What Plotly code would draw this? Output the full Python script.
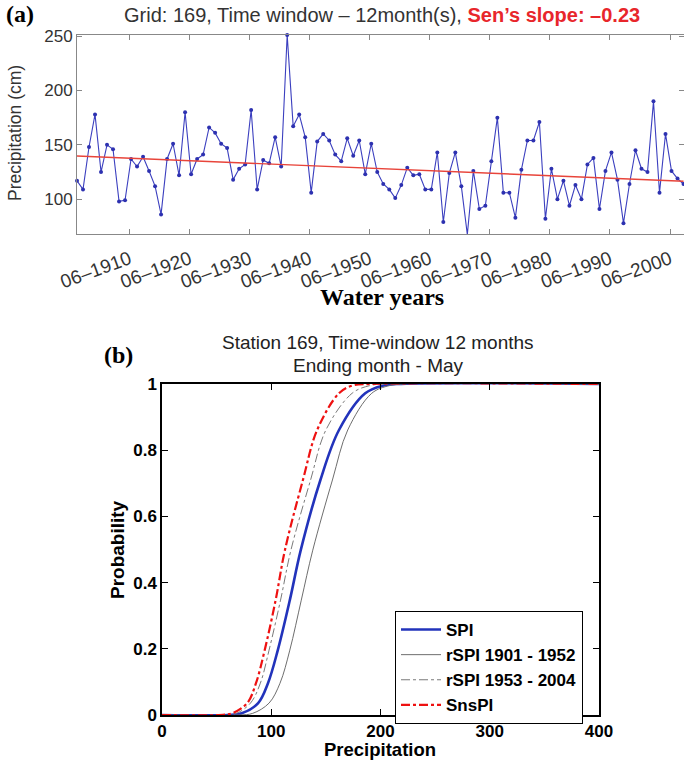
import plotly.graph_objects as go

# ---------------- Panel (a) data ----------------
water_years = list(range(1902, 2004))
precip_cm = [117, 109, 148, 178, 125, 150, 146, 98, 99, 137,
             130, 139, 126, 112, 86, 137, 151, 122, 180, 123,
             137, 141, 166, 161, 151, 147, 118, 128, 132, 182,
             109, 136, 133, 157, 130, 251, 167, 178, 157, 106,
             153, 160, 154, 141, 135, 156, 140, 154, 123, 151,
             125, 114, 109, 101, 113, 129, 122, 123, 109, 109,
             143, 79, 124, 143, 112, 67.5, 126, 91, 94, 135,
             175, 106, 106, 83, 127, 154, 154, 171, 82, 128,
             100, 117, 94, 113, 100, 132, 138, 91, 126, 143,
             118, 78, 114, 145, 128, 125, 190, 106, 160, 126,
             119, 114]
sens_slope = -0.23
trend_start = 139.7
tick_years = [1910, 1920, 1930, 1940, 1950, 1960, 1970, 1980, 1990, 2000]
tick_labels_a = ["06\u2013%d" % y for y in tick_years]

# ---------------- Panel (b) data ----------------
prob_levels = [0, 0, 0.005, 0.036, 0.096, 0.196, 0.347, 0.498, 0.71, 0.861, 0.972, 0.995, 1, 1]
spi_x = [0, 60, 73, 88, 97, 106, 117, 127, 145, 162, 186, 202, 215, 400]
rspi_early_x = [0, 70, 83, 98, 108, 117, 127.5, 138, 156, 170, 192, 208, 222, 400]
rspi_late_x = [0, 55, 68, 81, 90, 98, 108.5, 118, 136, 150, 174, 190, 205, 400]
snspi_x = [0, 52, 64, 78, 86, 94, 104, 112.5, 129, 142, 162, 174, 190, 400]

W, H = 684, 768
def px(x):
    return x / W
def py(y):
    return 1 - y / H

SANS = "Arial, Liberation Sans, sans-serif"
SERIF = "Times New Roman, Liberation Serif, serif"

xa = [y - 0.33 for y in water_years]
trend = [trend_start + sens_slope * (t - xa[0]) for t in xa]

fig = go.Figure()

fig.add_trace(go.Scatter(x=xa, y=precip_cm, mode="lines+markers",
                         line=dict(color="#3b3fbf", width=1.1),
                         marker=dict(color="#2d31b0", size=4),
                         xaxis="x", yaxis="y", showlegend=False, cliponaxis=False))
fig.add_trace(go.Scatter(x=xa, y=trend, mode="lines",
                         line=dict(color="#e8443a", width=1.4),
                         xaxis="x", yaxis="y", showlegend=False))

curves = [
    ("SPI", spi_x, dict(color="#2233bb", width=2.6, dash="solid")),
    ("rSPI 1901 - 1952", rspi_early_x, dict(color="#6e6e6e", width=1.0, dash="solid")),
    ("rSPI 1953 - 2004", rspi_late_x, dict(color="#7a7a7a", width=1.0, dash="dashdot")),
    ("SnsPI", snspi_x, dict(color="#ee1111", width=2.2, dash="dashdot")),
]
for name, xs, ln in curves:
    fig.add_trace(go.Scatter(x=xs, y=prob_levels, mode="lines", name=name,
                             line=dict(shape="spline", smoothing=1.0, **ln),
                             xaxis="x2", yaxis="y2"))

fig.update_layout(
    width=W, height=H, margin=dict(l=0, r=0, t=0, b=0, autoexpand=False),
    paper_bgcolor="white", plot_bgcolor="white",
    font=dict(family=SANS, color="#222"),
    xaxis=dict(domain=[px(77), 1.0], anchor="y", range=[1901.67, 2002.75], automargin=False,
               tickvals=[y + 0.42 for y in tick_years], ticktext=tick_labels_a,
               tickangle=-20, tickfont=dict(size=19, color="#333"), ticklabelstandoff=6,
               ticks="inside", ticklen=5, tickcolor="#888", showgrid=False,
               zeroline=False, showline=True, linecolor="#888", linewidth=1, mirror="ticks"),
    yaxis=dict(domain=[py(234), py(35)], anchor="x", range=[68, 251], automargin=False,
               tickvals=[100, 150, 200, 250], tickfont=dict(size=17, color="#333"),
               ticks="inside", ticklen=5, tickcolor="#888", showgrid=False,
               zeroline=False, showline=True, linecolor="#888", linewidth=1, mirror="ticks"),
    xaxis2=dict(domain=[px(162), px(599)], anchor="y2", range=[0, 400], automargin=False,
                tickvals=[0, 100, 200, 300, 400],
                tickfont=dict(size=17, color="black", weight="bold"),
                ticks="inside", ticklen=6, tickcolor="black", showgrid=False,
                zeroline=False, showline=True, linecolor="black", linewidth=1.5, mirror="ticks"),
    yaxis2=dict(domain=[py(715), py(384)], anchor="x2", range=[0, 1], automargin=False,
                tickvals=[0, 0.2, 0.4, 0.6, 0.8, 1], ticktext=["0", "0.2", "0.4", "0.6", "0.8", "1"],
                tickfont=dict(size=17, color="black", weight="bold"),
                ticks="inside", ticklen=6, tickcolor="black", showgrid=False,
                zeroline=False, showline=True, linecolor="black", linewidth=1.5, mirror="ticks"),
    legend=dict(x=px(395), y=py(611), xanchor="left", yanchor="top",
                bgcolor="white", bordercolor="black", borderwidth=1,
                font=dict(family=SANS, size=17, color="black", weight="bold"),
                tracegroupgap=0, itemwidth=40),
)

ann = [
    dict(x=px(4), y=py(14), text="<b>(a)</b>", xanchor="left", yanchor="middle",
         font=dict(family=SERIF, size=24, color="black")),
    dict(x=px(382), y=py(15),
         text="Grid: 169, Time window \u2013 12month(s), <span style='color:#e8262b'><b>Sen\u2019s slope: \u20130.23</b></span>",
         xanchor="center", yanchor="middle", font=dict(family=SANS, size=20, color="#333")),
    dict(x=px(15), y=py(133), text="Precipitation (cm)", textangle=-90,
         xanchor="center", yanchor="middle", font=dict(family=SANS, size=17.5, color="#333")),
    dict(x=px(382), y=py(297), text="<b>Water years</b>", xanchor="center", yanchor="middle",
         font=dict(family=SERIF, size=24, color="black")),
    dict(x=px(102), y=py(355), text="<b>(b)</b>", xanchor="left", yanchor="middle",
         font=dict(family=SERIF, size=24, color="black")),
    dict(x=px(378), y=py(342), text="Station 169, Time-window 12 months", xanchor="center",
         yanchor="middle", font=dict(family=SANS, size=19, color="#222")),
    dict(x=px(378), y=py(365), text="Ending month - May", xanchor="center",
         yanchor="middle", font=dict(family=SANS, size=19, color="#222")),
    dict(x=px(380), y=py(749), text="<b>Precipitation</b>", xanchor="center", yanchor="middle",
         font=dict(family=SANS, size=18.5, color="black")),
    dict(x=px(117), y=py(550), text="<b>Probability</b>", textangle=-90,
         xanchor="center", yanchor="middle", font=dict(family=SANS, size=19, color="black")),
]
for a in ann:
    a.update(xref="paper", yref="paper", showarrow=False)
fig.update_layout(annotations=ann)

fig.write_html("out.html", config={"displayModeBar": False},
               post_script="document.body.style.margin='0px';")
